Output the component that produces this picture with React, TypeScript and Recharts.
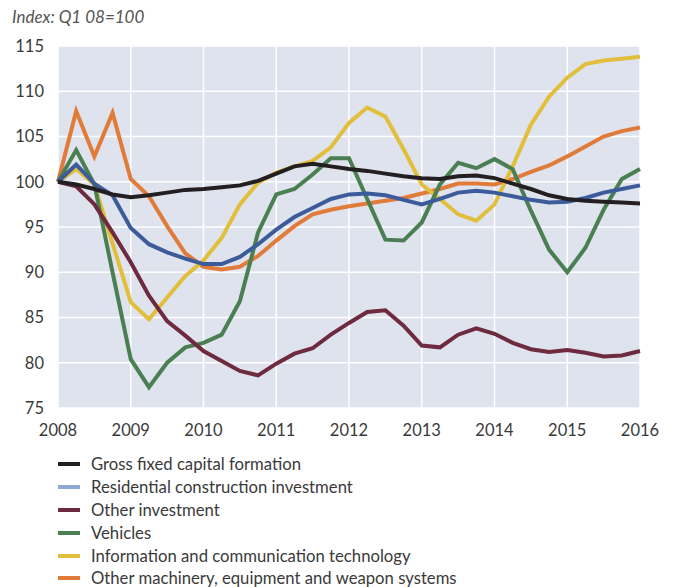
import React from 'react';
import { LineChart, Line, XAxis, YAxis, CartesianGrid } from 'recharts';

const startYear = 2008;
const xTicks = [2008, 2009, 2010, 2011, 2012, 2013, 2014, 2015, 2016];
const yTicks = [75, 80, 85, 90, 95, 100, 105, 110, 115];

const gfcf = [100, 99.7, 99.2, 98.6, 98.3, 98.5, 98.8, 99.1, 99.2, 99.4, 99.6, 100.1, 100.9, 101.7, 102.0, 101.7, 101.4, 101.2, 100.9, 100.6, 100.4, 100.3, 100.6, 100.7, 100.4, 99.8, 99.2, 98.5, 98.1, 97.9, 97.8, 97.7, 97.6];
const residential = [100, 101.9, 99.8, 98.5, 94.9, 93.1, 92.2, 91.5, 90.9, 90.9, 91.7, 93.1, 94.7, 96.1, 97.1, 98.1, 98.6, 98.7, 98.5, 98.0, 97.5, 98.1, 98.8, 99.0, 98.8, 98.4, 98.0, 97.7, 97.8, 98.2, 98.8, 99.2, 99.6];
const otherInv = [100, 99.5, 97.5, 94.4, 91.1, 87.4, 84.6, 83.0, 81.3, 80.2, 79.1, 78.6, 79.9, 81.0, 81.6, 83.1, 84.4, 85.6, 85.8, 84.1, 81.9, 81.7, 83.1, 83.8, 83.2, 82.2, 81.5, 81.2, 81.4, 81.1, 80.7, 80.8, 81.3];
const vehicles = [100, 103.5, 99.7, 90.0, 80.4, 77.3, 80.0, 81.7, 82.2, 83.1, 86.8, 94.4, 98.6, 99.2, 100.8, 102.6, 102.6, 98.1, 93.6, 93.5, 95.5, 99.7, 102.1, 101.5, 102.5, 101.4, 96.8, 92.5, 90.0, 92.7, 96.9, 100.3, 101.4];
const ict = [100, 101.4, 99.7, 93.2, 86.7, 84.8, 87.2, 89.6, 91.3, 93.8, 97.5, 99.9, 101.0, 101.7, 102.3, 103.8, 106.5, 108.2, 107.2, 103.6, 99.7, 98.1, 96.4, 95.7, 97.5, 101.7, 106.3, 109.4, 111.5, 113.0, 113.4, 113.6, 113.8];
const machinery = [100, 107.8, 102.8, 107.6, 100.3, 98.4, 95.1, 92.1, 90.6, 90.3, 90.6, 91.8, 93.5, 95.1, 96.4, 96.9, 97.3, 97.6, 97.9, 98.2, 98.7, 99.2, 99.8, 99.8, 99.7, 100.3, 101.1, 101.8, 102.8, 103.9, 105.0, 105.6, 106.0];

const seriesNames = [
  'Gross fixed capital formation',
  'Residential construction investment',
  'Other investment',
  'Vehicles',
  'Information and communication technology',
  'Other machinery, equipment and weapon systems',
];
const lineColors = ['#231f20', '#3b5b9a', '#6e2a3e', '#4a7f52', '#e1bf3d', '#e07b39'];
const legendColors = ['#231f20', '#8eaad4', '#6e2a3e', '#4a7f52', '#e1bf3d', '#e07b39'];
const keys = ['gfcf', 'residential', 'otherInv', 'vehicles', 'ict', 'machinery'];
const allSeries = [gfcf, residential, otherInv, vehicles, ict, machinery];

const data = gfcf.map((_, i) => {
  const row: Record<string, number> = { t: startYear + i / 4 };
  keys.forEach((k, j) => {
    row[k] = allSeries[j][i];
  });
  return row;
});

const drawOrder = [5, 4, 3, 2, 1, 0];
const FONT = 'Lato, "Open Sans", sans-serif';

export default function App() {
  return (
    <div style={{ position: 'absolute', left: 0, top: 0, width: 680, height: 587, background: '#fff', fontFamily: FONT }}>
      <div style={{ position: 'absolute', left: 12, top: 7, fontSize: 17, fontStyle: 'italic', color: '#555', lineHeight: '20px' }}>
        Index: Q1 08=100
      </div>
      <LineChart width={680} height={440} data={data} margin={{ top: 46, right: 40, left: 0, bottom: 0 }}>
        <CartesianGrid fill="#dfe3ee" stroke="#ffffff" strokeWidth={1.5} />
        <XAxis
          dataKey="t"
          type="number"
          domain={[2008, 2016]}
          ticks={xTicks}
          axisLine={false}
          tickLine={false}
          height={32}
          tick={{ fill: '#3a3a3a', fontSize: 16.5, fontFamily: FONT }}
          tickMargin={10}
        />
        <YAxis
          domain={[75, 115]}
          ticks={yTicks}
          axisLine={false}
          tickLine={false}
          width={58}
          tickMargin={8}
          tick={{ fill: '#3a3a3a', fontSize: 16.5, fontFamily: FONT }}
        />
        {drawOrder.map((j) => (
          <Line
            key={keys[j]}
            dataKey={keys[j]}
            stroke={lineColors[j]}
            strokeWidth={4}
            dot={false}
            type="linear"
            isAnimationActive={false}
          />
        ))}
      </LineChart>
      <div style={{ position: 'absolute', left: 58, top: 453 }}>
        {seriesNames.map((n, j) => (
          <div key={n} style={{ display: 'flex', alignItems: 'center', height: 22.8 }}>
            <div style={{ width: 22, height: 4, background: legendColors[j], marginRight: 11 }} />
            <span style={{ fontSize: 16.7, color: '#3a3a3a', whiteSpace: 'nowrap' }}>{n}</span>
          </div>
        ))}
      </div>
    </div>
  );
}
